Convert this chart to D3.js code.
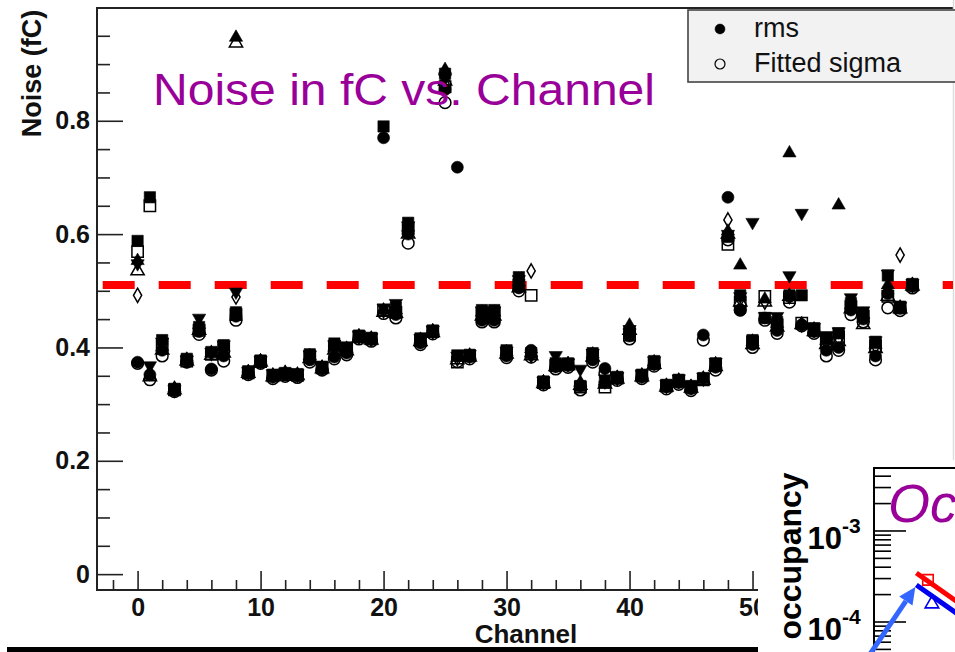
<!DOCTYPE html>
<html>
<head>
<meta charset="utf-8">
<script src="https://cdn.jsdelivr.net/npm/d3@7"></script>
<style>
  html, body { margin: 0; padding: 0; background: #fff; overflow: hidden; }
  svg { display: block; }
  text { font-family: "Liberation Sans", Arial, sans-serif; }
</style>
</head>
<body>
<svg id="chart" width="955" height="652"></svg>
<script>
// noise per channel, one array per marker series (fC)
const rms = [0.374,0.352,0.395,0.325,0.377,0.428,0.362,0.385,0.455,0.356,
  0.375,0.348,0.352,0.350,0.378,0.362,0.383,0.390,0.418,0.414,
  0.770,0.458,0.600,0.408,0.427,0.855,0.718,0.383,0.448,0.448,
  0.385,0.505,0.395,0.337,0.366,0.368,0.333,0.378,0.363,0.345,
  0.420,0.348,0.370,0.330,0.338,0.327,0.422,0.365,0.665,0.466,
  0.405,0.452,0.430,0.490,0.440,0.428,0.395,0.400,0.466,0.450,
  0.385,0.495,0.469,0.508];
const fittedSigma = [0.372,0.343,0.385,0.322,0.374,0.423,0.360,0.376,0.448,0.352,
  0.372,0.345,0.349,0.347,0.374,0.360,0.380,0.387,0.415,0.411,
  0.460,0.452,0.584,0.405,0.424,0.832,0.375,0.380,0.445,0.445,
  0.382,0.500,0.383,0.334,0.362,0.365,0.325,0.374,0.355,0.342,
  0.415,0.345,0.367,0.327,0.335,0.324,0.413,0.360,0.590,0.466,
  0.400,0.448,0.425,0.480,0.438,0.425,0.385,0.395,0.458,0.445,
  0.378,0.470,0.465,0.505];
const rmsSquare = [0.588,0.665,0.413,0.327,0.380,0.436,0.392,0.404,0.462,0.358,
  0.377,0.352,0.355,0.353,0.388,0.366,0.407,0.400,0.421,0.417,
  0.790,0.470,0.620,0.416,0.430,0.883,0.386,0.387,0.466,0.466,
  0.395,0.524,0.390,0.340,0.372,0.372,0.332,0.390,0.338,0.348,
  0.428,0.352,0.376,0.334,0.343,0.332,0.346,0.372,0.595,0.492,
  0.413,0.452,0.445,0.492,0.492,0.434,0.418,0.425,0.478,0.460,
  0.410,0.527,0.472,0.512];
const sigmaSquare = [0.569,0.650,0.405,0.325,0.376,0.430,0.388,0.400,0.458,0.355,
  0.375,0.350,0.352,0.351,0.384,0.364,0.402,0.397,0.419,0.415,
  0.466,0.462,0.610,0.412,0.428,0.860,0.374,0.385,0.460,0.460,
  0.390,0.510,0.492,0.338,0.368,0.370,0.330,0.386,0.330,0.346,
  0.422,0.350,0.372,0.332,0.340,0.330,0.343,0.368,0.582,0.480,
  0.410,0.490,0.440,0.488,0.443,0.430,0.410,0.418,0.472,0.455,
  0.403,0.490,0.470,0.510];
const rmsTriangle = [0.553,0.350,0.400,0.328,0.379,0.440,0.390,0.400,0.947,0.357,
  0.376,0.351,0.356,0.352,0.385,0.365,0.400,0.398,0.420,0.416,
  0.465,0.466,0.612,0.414,0.429,0.890,0.382,0.386,0.462,0.462,
  0.392,0.515,0.390,0.339,0.370,0.371,0.338,0.388,0.340,0.347,
  0.439,0.351,0.374,0.333,0.342,0.331,0.345,0.370,0.605,0.545,
  0.410,0.485,0.442,0.743,0.440,0.432,0.412,0.651,0.475,0.458,
  0.405,0.510,0.471,0.511];
const sigmaTriangle = [0.535,0.348,0.395,0.325,0.376,0.430,0.386,0.390,0.937,0.354,
  0.374,0.348,0.352,0.350,0.380,0.362,0.395,0.394,0.417,0.413,
  0.462,0.460,0.600,0.410,0.426,0.870,0.378,0.383,0.455,0.455,
  0.388,0.505,0.385,0.336,0.366,0.368,0.333,0.383,0.335,0.344,
  0.430,0.348,0.370,0.330,0.338,0.328,0.342,0.366,0.600,0.480,
  0.405,0.480,0.436,0.490,0.440,0.428,0.405,0.410,0.468,0.440,
  0.398,0.490,0.468,0.508];
const rmsTriangleDown = [0.548,0.368,0.410,0.326,0.378,0.452,0.392,0.405,0.498,0.358,
  0.377,0.354,0.357,0.354,0.387,0.367,0.405,0.402,0.422,0.418,
  0.470,0.478,0.615,0.416,0.431,0.875,0.385,0.388,0.465,0.465,
  0.394,0.520,0.385,0.341,0.386,0.373,0.362,0.390,0.345,0.349,
  0.432,0.353,0.377,0.335,0.345,0.333,0.348,0.374,0.600,0.490,
  0.621,0.455,0.455,0.527,0.637,0.436,0.420,0.428,0.488,0.465,
  0.412,0.530,0.473,0.513];
const sigmaDiamond = [0.492,0.355,0.400,0.325,0.377,0.435,0.390,0.395,0.489,0.356,
  0.375,0.350,0.354,0.352,0.383,0.364,0.398,0.397,0.419,0.415,
  0.465,0.465,0.605,0.412,0.428,0.865,0.380,0.385,0.458,0.458,
  0.390,0.510,0.535,0.338,0.369,0.370,0.335,0.386,0.340,0.346,
  0.425,0.350,0.373,0.332,0.341,0.330,0.345,0.370,0.625,0.485,
  0.410,0.480,0.440,0.490,0.440,0.431,0.410,0.415,0.472,0.455,
  0.402,0.500,0.563,0.510];

const threshold = 0.51;
const xMajorTicks = [0, 10, 20, 30, 40, 50, 60];
const yMajorTicks = [0, 0.2, 0.4, 0.6, 0.8];
const legendLabels = ['rms', 'Fitted sigma'];

// occupancy inset (partly visible)
const insetX = [1.5, 5];
const insetRed = [3.46e-4, 5.9e-5];
const insetBlue = [2.55e-4, 4.39e-5];
const insetRedPoint = [1.91, 2.9e-4];
const insetBluePoint = [2.05, 1.58e-4];
const insetTicks = [1e-4, 1e-3];

const svg = d3.select('#chart');
const W = 955, H = 652;
const m = { left: 97, top: 8, right: 953, bottom: 590 };

const x = d3.scaleLinear().domain([-3.3, 66.3]).range([m.left, m.right]);
const y = d3.scaleLinear().domain([-0.028, 0.999]).range([m.bottom, m.top]);

// axes: ticks point into the frame, like ROOT
const yAxis = svg.append('g').attr('transform', `translate(${m.left},0)`)
  .call(d3.axisLeft(y).tickValues(yMajorTicks).tickSizeInner(-26).tickSizeOuter(0)
    .tickPadding(7).tickFormat(d => d === 0 ? '0' : d3.format('.1f')(d)));
yAxis.select('.domain').remove();
yAxis.selectAll('.tick line').attr('stroke', '#222').attr('stroke-width', 1.6);
yAxis.selectAll('.tick text').attr('font-size', 25).attr('font-weight', 'bold')
  .attr('font-family', '"Liberation Sans", Arial, sans-serif').attr('fill', '#111');

const yMinor = d3.range(0.05, 0.96, 0.05).filter(v => !yMajorTicks.some(t => Math.abs(t - v) < 1e-6));
const yMin = svg.append('g').attr('transform', `translate(${m.left},0)`)
  .call(d3.axisLeft(y).tickValues(yMinor).tickSizeInner(-13).tickSizeOuter(0).tickFormat(''));
yMin.select('.domain').remove();
yMin.selectAll('.tick line').attr('stroke', '#222').attr('stroke-width', 1.6);

const xAxis = svg.append('g').attr('transform', `translate(0,${m.bottom})`)
  .call(d3.axisBottom(x).tickValues(xMajorTicks).tickSizeInner(-19).tickSizeOuter(0).tickPadding(8));
xAxis.select('.domain').remove();
xAxis.selectAll('.tick line').attr('stroke', '#222').attr('stroke-width', 1.6);
xAxis.selectAll('.tick text').attr('font-size', 25).attr('font-weight', 'bold')
  .attr('font-family', '"Liberation Sans", Arial, sans-serif').attr('fill', '#111');

const xMinor = d3.range(-2, 66, 2).filter(v => v % 10 !== 0);
const xMin = svg.append('g').attr('transform', `translate(0,${m.bottom})`)
  .call(d3.axisBottom(x).tickValues(xMinor).tickSizeInner(-10).tickSizeOuter(0).tickFormat(''));
xMin.select('.domain').remove();
xMin.selectAll('.tick line').attr('stroke', '#222').attr('stroke-width', 1.6);

// frame
svg.append('path')
  .attr('d', `M${m.right},${m.top}H${m.left}V${m.bottom}H${m.right}`)
  .attr('fill', 'none').attr('stroke', '#222').attr('stroke-width', 2);
svg.append('line').attr('x1', m.right + 0.5).attr('x2', m.right + 0.5).attr('y1', 0).attr('y2', H)
  .attr('stroke', '#ddd').attr('stroke-width', 1.5);

// axis titles
svg.append('text').attr('transform', `translate(41,${(m.top + 139) / 2}) rotate(-90)`)
  .attr('text-anchor', 'middle').attr('font-size', 27).attr('font-weight', 'bold')
  .attr('fill', '#111').text('Noise (fC)');
svg.append('text').attr('x', 526).attr('y', 643).attr('text-anchor', 'middle')
  .attr('font-size', 26).attr('font-weight', 'bold').attr('fill', '#111').text('Channel');

// threshold line
svg.append('line')
  .attr('x1', m.left).attr('x2', m.right).attr('y1', y(threshold)).attr('y2', y(threshold))
  .attr('stroke', '#ff0000').attr('stroke-width', 8)
  .attr('stroke-dasharray', '32,24').attr('stroke-dashoffset', 50.3);

// marker series
const series = [
  { values: fittedSigma, type: d3.symbolCircle, size: 108, open: true },
  { values: rms, type: d3.symbolCircle, size: 113 },
  { values: rmsTriangleDown, type: d3.symbolTriangle, size: 76, rot: 180 },
  { values: rmsTriangle, type: d3.symbolTriangle, size: 76 },
  { values: sigmaDiamond, type: d3.symbolDiamond, size: 58, open: true },
  { values: sigmaTriangle, type: d3.symbolTriangle, size: 76, open: true },
  { values: sigmaSquare, type: d3.symbolSquare, size: 128, open: true },
  { values: rmsSquare, type: d3.symbolSquare, size: 128 }
];

series.forEach(s => {
  svg.append('g').selectAll('path').data(s.values).join('path')
    .attr('transform', (v, i) => `translate(${x(i)},${y(v)})${s.rot ? ` rotate(${s.rot})` : ''}`)
    .attr('d', d3.symbol(s.type, s.size))
    .attr('fill', s.open ? 'none' : '#000')
    .attr('stroke', '#000')
    .attr('stroke-width', s.open ? 1.5 : 0.6);
});

// title
svg.append('text').attr('x', 153).attr('y', 105)
  .attr('font-family', '"DejaVu Sans", sans-serif').attr('font-size', 44)
  .attr('fill', '#990099').attr('textLength', 502).attr('lengthAdjust', 'spacingAndGlyphs')
  .text('Noise in fC vs. Channel');

// legend
const leg = svg.append('g');
leg.append('rect').attr('x', 688).attr('y', 10).attr('width', 280).attr('height', 72)
  .attr('fill', '#f2f2f2').attr('stroke', '#444').attr('stroke-width', 1.6);
legendLabels.forEach((lab, i) => {
  const cy = 29 + i * 35;
  leg.append('path').attr('transform', `translate(720,${cy})`)
    .attr('d', d3.symbol(d3.symbolCircle, 78))
    .attr('fill', i === 0 ? '#000' : 'none').attr('stroke', '#000').attr('stroke-width', i === 0 ? 0.5 : 1.2);
  leg.append('text').attr('x', 754).attr('y', cy + 8).attr('font-size', 27).attr('fill', '#111').text(lab);
});

// bottom bar
svg.append('rect').attr('x', 7).attr('y', 647).attr('width', 760).attr('height', 5).attr('fill', '#000');

// ---------- inset ----------
const inset = svg.append('g');
inset.append('rect').attr('x', 758).attr('y', 460).attr('width', W - 758).attr('height', H - 460).attr('fill', '#fff');

const ix = d3.scaleLinear().domain([0, 8]).range([874, 1100]);
const iy = d3.scaleLog().domain([1.39e-5, 4.92e-3]).range([700, 468]);

const minorLog = [];
[1e-5, 1e-4, 1e-3].forEach(dec => d3.range(2, 10).forEach(k => {
  const v = dec * k;
  if (v < iy.domain()[1]) minorLog.push(v);
}));
inset.append('g').selectAll('line').data(minorLog).join('line')
  .attr('x1', 874).attr('x2', 891).attr('y1', d => iy(d)).attr('y2', d => iy(d))
  .attr('stroke', '#000').attr('stroke-width', 1.6);
inset.append('g').selectAll('line').data(insetTicks).join('line')
  .attr('x1', 874).attr('x2', 906).attr('y1', d => iy(d)).attr('y2', d => iy(d))
  .attr('stroke', '#000').attr('stroke-width', 1.6);

insetTicks.forEach(t => {
  const e = Math.round(Math.log10(t));
  inset.append('text').attr('x', 842).attr('y', iy(t) + 18).attr('text-anchor', 'end')
    .attr('font-size', 31).attr('font-weight', 'bold').attr('fill', '#000').text('10');
  inset.append('text').attr('x', 842).attr('y', iy(t) + 2)
    .attr('font-size', 21).attr('font-weight', 'bold').attr('fill', '#000').text(String(e));
});

inset.append('path').attr('d', `M${W},468H874V${H}`)
  .attr('fill', 'none').attr('stroke', '#000').attr('stroke-width', 2);

inset.append('text').attr('transform', 'translate(801,556) rotate(-90)')
  .attr('text-anchor', 'middle').attr('font-size', 32).attr('font-weight', 'bold')
  .attr('fill', '#000').text('occupancy');

inset.append('text').attr('x', 888).attr('y', 522)
  .attr('font-family', '"DejaVu Sans", sans-serif').attr('font-style', 'italic')
  .attr('font-size', 54).attr('fill', '#990099').text('Oc');

const iline = d3.line().x((d, i) => ix(insetX[i])).y(d => iy(d));
inset.append('path').datum(insetRed).attr('d', iline)
  .attr('fill', 'none').attr('stroke', '#ff0000').attr('stroke-width', 5);
inset.append('path').datum(insetBlue).attr('d', iline)
  .attr('fill', 'none').attr('stroke', '#0000ee').attr('stroke-width', 5);

inset.append('path').attr('transform', `translate(${ix(insetRedPoint[0])},${iy(insetRedPoint[1])})`)
  .attr('d', d3.symbol(d3.symbolSquare, 110)).attr('fill', 'none')
  .attr('stroke', '#ff0000').attr('stroke-width', 1.6);
inset.append('path').attr('transform', `translate(${ix(insetBluePoint[0])},${iy(insetBluePoint[1])})`)
  .attr('d', d3.symbol(d3.symbolTriangle, 80)).attr('fill', 'none')
  .attr('stroke', '#0000ee').attr('stroke-width', 1.6);

// arrow pointing at start of blue curve
const tipX = ix(insetX[0]) - 1, tipY = iy(insetBlue[0]) + 2;
const tailX = 866, tailY = 660;
const ang = Math.atan2(tipY - tailY, tipX - tailX);
const headLen = 17, headW = 8;
const bx = tipX - headLen * Math.cos(ang), by = tipY - headLen * Math.sin(ang);
inset.append('line').attr('x1', tailX).attr('y1', tailY).attr('x2', bx).attr('y2', by)
  .attr('stroke', '#3366ff').attr('stroke-width', 5);
inset.append('path')
  .attr('d', `M${tipX},${tipY}L${bx + headW * Math.sin(ang)},${by - headW * Math.cos(ang)}L${bx - headW * Math.sin(ang)},${by + headW * Math.cos(ang)}Z`)
  .attr('fill', '#3366ff');
</script>
</body>
</html>
